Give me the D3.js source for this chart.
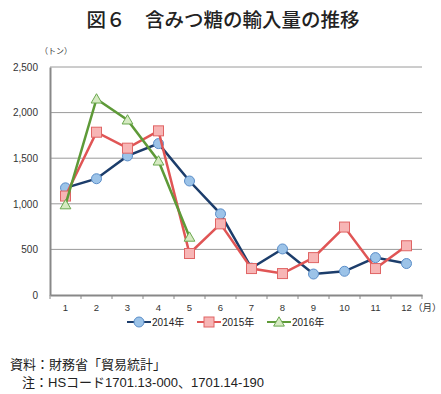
<!DOCTYPE html>
<html><head><meta charset="utf-8">
<script src="https://cdn.jsdelivr.net/npm/d3@7"></script>
<style>body{margin:0;background:#fff;}svg{display:block;font-family:"Liberation Sans","Noto Sans CJK JP",sans-serif;}</style>
</head><body>
<script>
const months = ["1","2","3","4","5","6","7","8","9","10","11","12"];
const s2014 = [1175, 1275, 1525, 1660, 1250, 890, 295, 505, 230, 260, 410, 345];
const s2015 = [1085, 1785, 1610, 1800, 455, 780, 290, 235, 410, 745, 290, 540];
const s2016 = [990, 2150, 1920, 1470, 635];
const yTicks = [0, 500, 1000, 1500, 2000, 2500];
const seriesNames = ["2014年", "2015年", "2016年"];

const W = 441, H = 394;
const svg = d3.select("body").append("svg").attr("width", W).attr("height", H);
const L = 50, R = 422, T = 67, B = 295;
const x = d3.scaleBand().domain(months).range([L, R]);
const y = d3.scaleLinear().domain([0, 2500]).range([B, T]);
const FF = '"Liberation Sans","Noto Sans CJK JP",sans-serif';

svg.append("text").attr("x", 223).attr("y", 27).attr("text-anchor", "middle")
  .attr("font-size", 19.5).attr("font-weight", 500).attr("fill", "#222")
  .attr("font-family", "Noto Sans CJK JP").text("図６　含みつ糖の輸入量の推移");
svg.append("text").attr("x", 40).attr("y", 54).attr("font-size", 8).attr("fill", "#333")
  .attr("font-family", "Noto Sans CJK JP").text("（トン）");

// grid
svg.append("g").selectAll("line").data(yTicks.filter(d => d > 0)).join("line")
  .attr("x1", L).attr("x2", R).attr("y1", d => y(d)).attr("y2", d => y(d))
  .attr("stroke", "#9a9a9a").attr("stroke-width", 1);

// y axis
const ya = svg.append("g").attr("transform", `translate(${L},0)`)
  .call(d3.axisLeft(y).tickValues(yTicks).tickFormat(d3.format(",")).tickSize(0).tickPadding(12));
ya.select(".domain").attr("stroke", "#888").attr("stroke-width", 2);
ya.selectAll("text").attr("font-size", 10).attr("fill", "#333").attr("font-family", "Liberation Sans");

// x axis
const xa = svg.append("g").attr("transform", `translate(0,${B})`)
  .call(d3.axisBottom(x).tickSize(0).tickPadding(9));
xa.select(".domain").attr("stroke", "#888").attr("stroke-width", 2);
xa.selectAll("text").attr("font-size", 9.5).attr("fill", "#333").attr("font-family", "Liberation Sans");
xa.selectAll("line.b").data(d3.range(13)).join("line").attr("class", "b")
  .attr("x1", i => L + i * x.step()).attr("x2", i => L + i * x.step())
  .attr("y1", 0).attr("y2", 4).attr("stroke", "#888").attr("stroke-width", 1);
svg.append("text").attr("x", 413).attr("y", 311).attr("font-size", 9.5).attr("fill", "#333")
  .attr("font-family", "Noto Sans CJK JP").text("（月）");

const cx = i => x(months[i]) + x.bandwidth() / 2;
const styles = [
  {line: "#1c3d6b", fill: "#9cc3e8", stroke: "#5b8ec9", shape: "circle"},
  {line: "#e05555", fill: "#f7b5b5", stroke: "#e06565", shape: "square"},
  {line: "#5e9a38", fill: "#d6eac2", stroke: "#6aa84f", shape: "triangle"}
];
const data = [s2014, s2015, s2016];
const line = d3.line().x((d, i) => cx(i)).y(d => y(d));

function marker(g, shape, st, px, py) {
  if (shape === "circle") g.append("circle").attr("cx", px).attr("cy", py).attr("r", 5)
    .attr("fill", st.fill).attr("stroke", st.stroke).attr("stroke-width", 1);
  else if (shape === "square") g.append("rect").attr("x", px - 5).attr("y", py - 5).attr("width", 10).attr("height", 10)
    .attr("fill", st.fill).attr("stroke", st.stroke).attr("stroke-width", 1);
  else g.append("path").attr("d", d3.symbol(d3.symbolTriangle, 50)()).attr("transform", `translate(${px},${py + 1})`)
    .attr("fill", st.fill).attr("stroke", st.stroke).attr("stroke-width", 1);
}

data.forEach((s, k) => {
  const st = styles[k];
  const g = svg.append("g");
  g.append("path").attr("d", line(s)).attr("fill", "none").attr("stroke", st.line).attr("stroke-width", 2.5);
  s.forEach((v, i) => marker(g, st.shape, st, cx(i), y(v)));
});

// legend
const lx = [127, 197, 267];
seriesNames.forEach((n, k) => {
  const st = styles[k];
  const g = svg.append("g");
  g.append("line").attr("x1", lx[k]).attr("x2", lx[k] + 24).attr("y1", 322).attr("y2", 322)
    .attr("stroke", st.line).attr("stroke-width", 2);
  marker(g, st.shape, st, lx[k] + 12, 322);
  g.append("text").attr("x", lx[k] + 25).attr("y", 326).attr("font-size", 10).attr("fill", "#222")
    .attr("font-family", FF).text(n);
});

svg.append("text").attr("x", 10).attr("y", 369).attr("font-size", 13).attr("fill", "#222")
  .attr("font-family", FF).text("資料：財務省「貿易統計」");
svg.append("text").attr("x", 22).attr("y", 387).attr("font-size", 13).attr("fill", "#222")
  .attr("font-family", FF).text("注：HSコード1701.13-000、1701.14-190");
</script>
</body></html>
